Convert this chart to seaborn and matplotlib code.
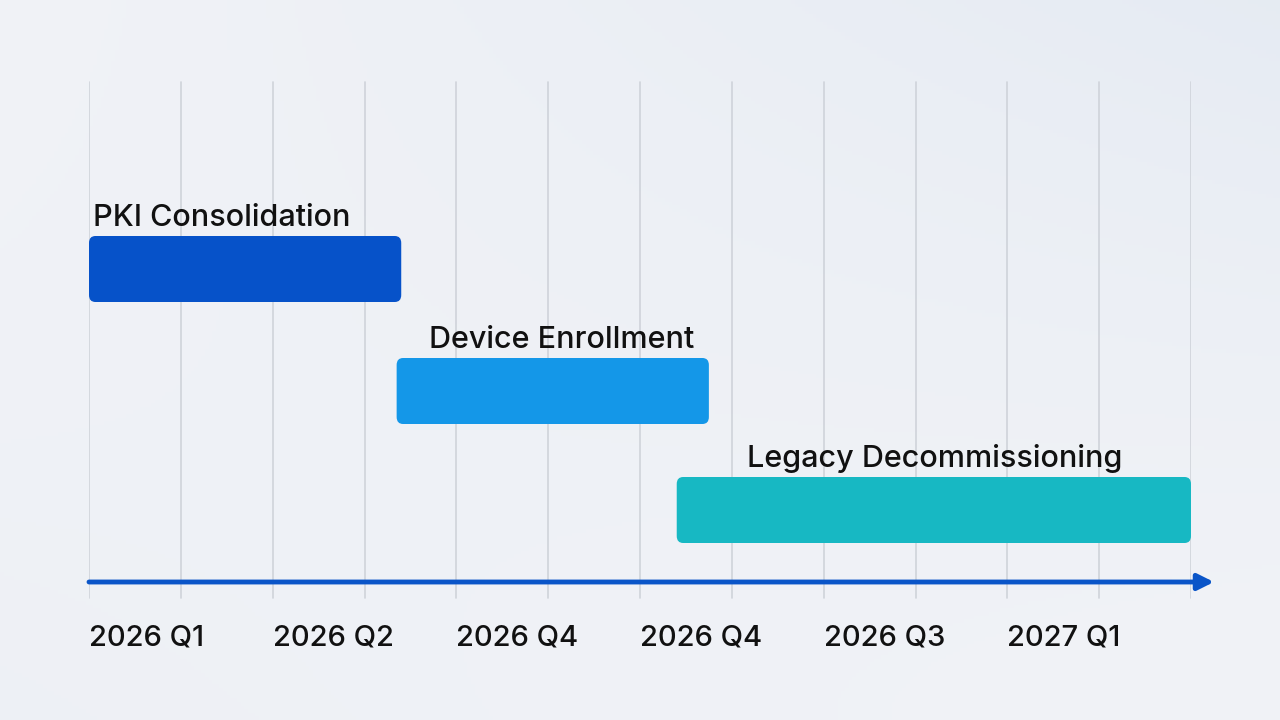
import numpy as np
import matplotlib
matplotlib.use("Agg")
import matplotlib.pyplot as plt
from matplotlib.patches import FancyBboxPatch
import seaborn as sns

# ---- data (months from start of 2026 Q1) ----
tasks = ["PKI Consolidation", "Device Enrollment", "Legacy Decommissioning"]
starts = [0.0, 3.35, 6.4]
ends = [3.4, 6.75, 12.0]
colors = ["#0652c9", "#1497e8", "#17b8c3"]
tick_pos = [0, 2, 4, 6, 8, 10]
tick_labels = ["2026 Q1", "2026 Q2", "2026 Q4", "2026 Q4", "2026 Q3", "2027 Q1"]

# label indent from bar start (months)
label_indent = [0.04, 0.35, 0.77]

sns.set_theme(style="white")
plt.rcParams['font.family'] = ['Inter', 'DejaVu Sans']

fig = plt.figure(figsize=(12.8, 7.2), dpi=100)

# background gradient
bg = fig.add_axes([0, 0, 1, 1])
yy, xx = np.mgrid[0:1:200j, 0:1:356j]
base = np.array([0.945, 0.952, 0.968])
tint = np.array([0.84, 0.88, 0.93])
w = np.clip(0.7 * xx * (1 - yy) ** 1.5 + 0.2 * (1 - xx) * yy, 0, 1)[..., None]
img = base * (1 - w * 0.6) + tint * (w * 0.6)
bg.imshow(img, aspect="auto", extent=[0, 1, 0, 1], origin="upper")
bg.axis("off")

ax = fig.add_axes([89 / 1280, 0, 1102 / 1280, 1])
ax.set_xlim(0, 12)
ax.set_ylim(720, 0)
ax.axis("off")

# grid lines
for x in range(13):
    ax.plot([x, x], [82, 598], color="#cfd3da", lw=1.2, zorder=1)

# bars
bar_top = [236, 358, 477]
bar_h = 66
for t, s, e, c, y, ind in zip(tasks, starts, ends, colors, bar_top, label_indent):
    p = FancyBboxPatch((s + 0.07, y + 7), e - s - 0.14, bar_h - 14,
                       boxstyle="round,pad=0.07", mutation_aspect=100,
                       facecolor=c, edgecolor="none", zorder=3)
    ax.add_patch(p)
    ax.text(s + ind, y - 4, t, fontsize=22, color="#111111", weight="medium",
            ha="left", va="bottom", zorder=4)

# timeline arrow
ax.annotate("", xy=(12.25, 582), xytext=(0, 582), annotation_clip=False,
            arrowprops=dict(arrowstyle="-|>,head_width=0.4,head_length=0.8",
                            color="#0a55c8", lw=3.5, shrinkA=0, shrinkB=0),
            zorder=5)

for x, lab in zip(tick_pos, tick_labels):
    ax.text(x, 638, lab, fontsize=21, color="#111111", weight="medium",
            ha="left", va="center")

fig.savefig("out.png", dpi=100)
